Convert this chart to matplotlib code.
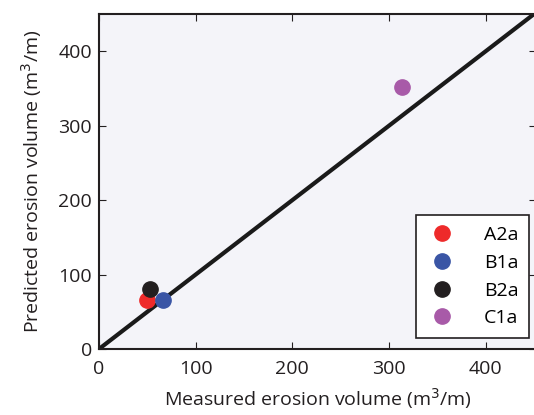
import matplotlib
matplotlib.use("Agg")
import matplotlib.pyplot as plt

# valori
labels = ["A2a", "B1a", "B2a", "C1a"]
measured = [50, 66, 53, 313]
predicted = [66, 66, 80, 352]
colors = ["#ee2a2a", "#3a55a5", "#231f20", "#a85aa8"]

plt.rcParams["font.family"] = ["Open Sans", "DejaVu Sans"]

fig = plt.figure(figsize=(5.34, 4.15), dpi=100)
ax = fig.add_axes([99 / 534, 66 / 415, 437 / 534, 335 / 415])
ax.set_facecolor("#f4f4f9")

# linea 1:1
ax.plot([0, 500], [0, 500], color="#1a1a1a", linewidth=3, zorder=2)
for lab, xm, yp, c in zip(labels, measured, predicted, colors):
    ax.plot(xm, yp, "o", color=c, markersize=11, label=lab, zorder=3)

ax.set_xlim(0, 452)
ax.set_ylim(0, 450)
ax.set_xticks([0, 100, 200, 300, 400])
ax.set_yticks([0, 100, 200, 300, 400])
ax.tick_params(direction="in", length=5, width=0.8, labelsize=14,
               top=True, right=True, colors="#231f20")
ax.tick_params(axis="x", pad=8)
ax.tick_params(axis="y", pad=5)
for s in ax.spines.values():
    s.set_linewidth(1.5)
    s.set_color("#231f20")

ax.set_xlabel("Measured erosion volume (m$^3$/m)", fontsize=14,
              color="#231f20", labelpad=6)
ax.set_ylabel("Predicted erosion volume (m$^3$/m)", fontsize=14,
              color="#231f20", labelpad=10)

leg = ax.legend(loc="lower right", bbox_to_anchor=(0.985, 0.033),
                borderaxespad=0, fancybox=False, framealpha=1,
                edgecolor="#231f20", fontsize=14, handletextpad=1.35,
                labelspacing=0.5, borderpad=0.55, handlelength=1.6)
leg.get_frame().set_linewidth(1.2)

plt.savefig("out.png", dpi=100)
plt.close()
